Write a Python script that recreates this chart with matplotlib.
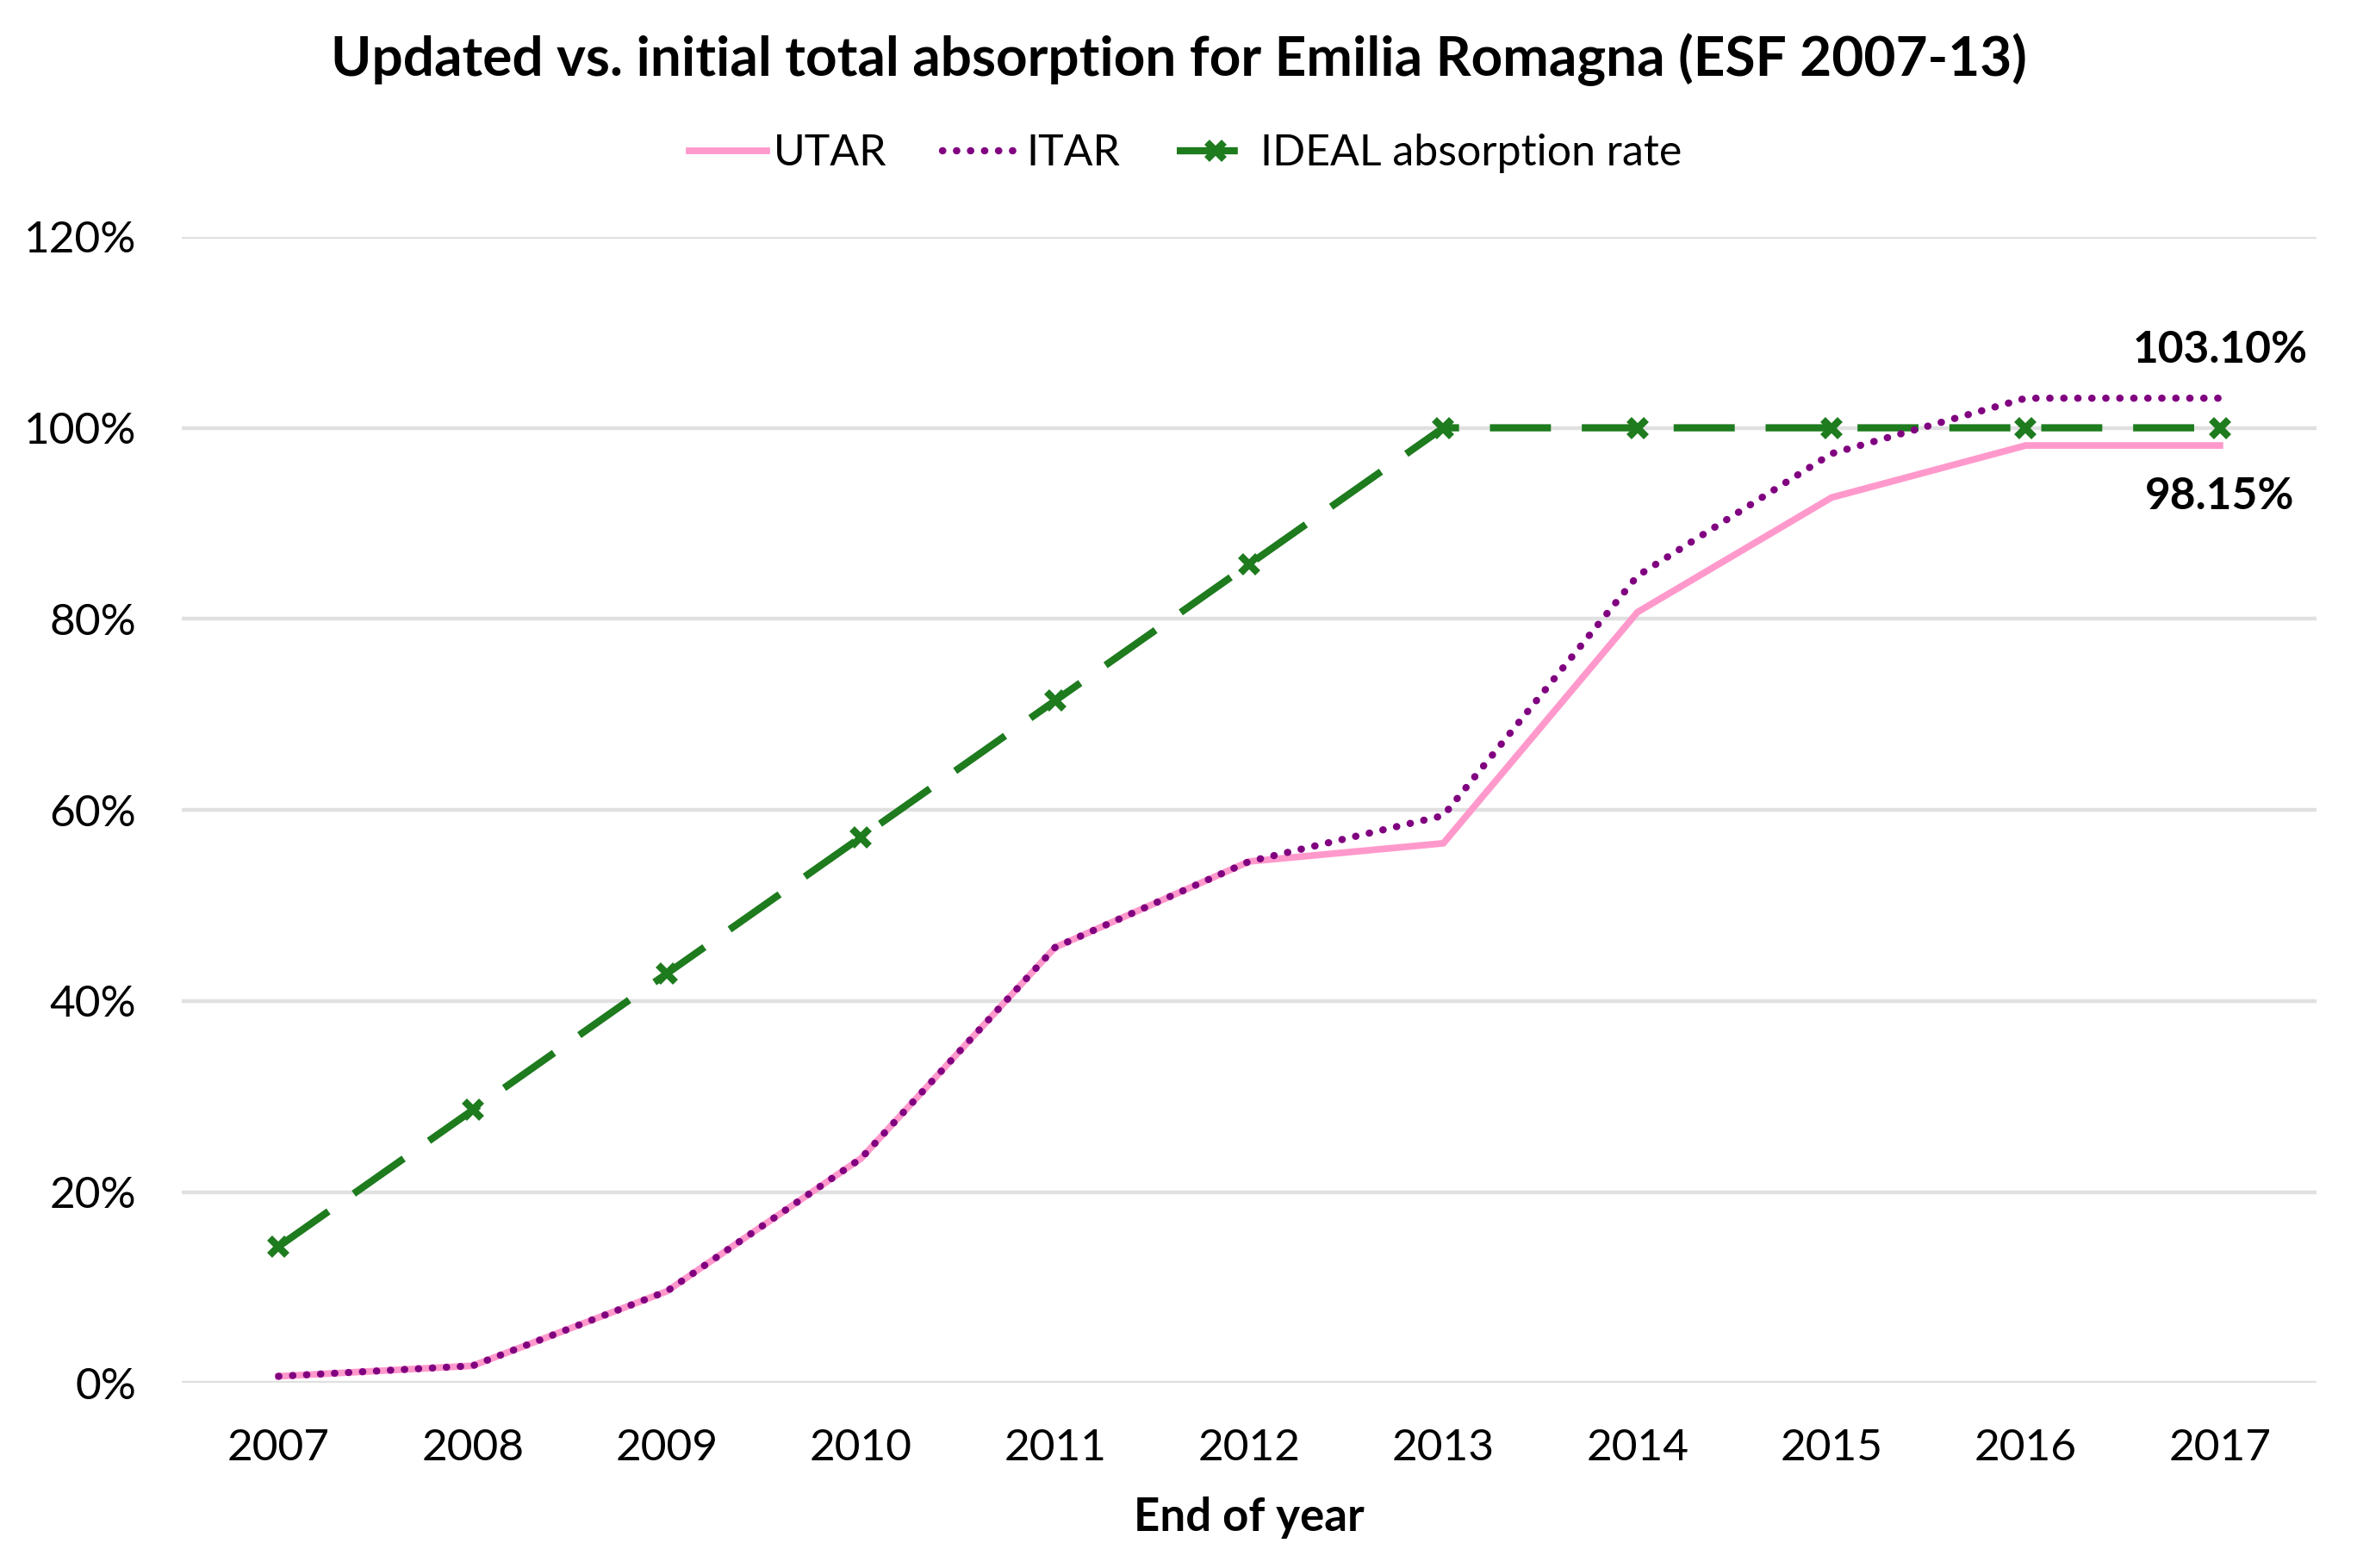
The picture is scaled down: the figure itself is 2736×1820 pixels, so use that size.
import matplotlib
matplotlib.use("Agg")
import matplotlib.pyplot as plt
from matplotlib.ticker import FuncFormatter

years = [2007, 2008, 2009, 2010, 2011, 2012, 2013, 2014, 2015, 2016, 2017]
utar = [0.7, 1.8, 9.6, 23.5, 45.6, 54.6, 56.5, 80.7, 92.7, 98.15, 98.15]
itar = [0.7, 1.8, 9.6, 23.5, 45.6, 54.6, 59.4, 84.5, 97.3, 103.10, 103.10]
ideal = [14.29, 28.57, 42.86, 57.14, 71.43, 85.71, 100, 100, 100, 100, 100]
yticks = [0, 20, 40, 60, 80, 100, 120]

plt.rcParams['font.family'] = ['Lato', 'DejaVu Sans']

fig = plt.figure(figsize=(13.68, 9.10), dpi=200)
ax = fig.add_axes([0.077, 0.118, 0.906, 0.731])

x = list(range(len(years)))
l_ideal, = ax.plot(x, ideal, color='#1E7B1E', lw=3.0, dashes=(8.5, 4.3),
                   marker='x', markersize=7, markeredgewidth=3.0, label='IDEAL absorption rate', zorder=3)
l_utar, = ax.plot(x, utar, color='#FF99CC', lw=2.8, solid_joinstyle='miter', label='UTAR', zorder=4)
l_itar, = ax.plot(x, itar, color='#800080', lw=3.0, dashes=(0.05, 1.9), dash_capstyle='round',
                  label='ITAR', zorder=5)

ax.set_xlim(-0.5, len(years) - 0.5)
ax.set_ylim(0, 120)
ax.set_yticks(yticks)
ax.yaxis.set_major_formatter(FuncFormatter(lambda v, p: f"{v:.0f}%"))
ax.set_xticks(x)
ax.set_xticklabels([str(y) for y in years])
ax.grid(axis='y', color='#E0E0E0', lw=1.6)
ax.set_axisbelow(True)
for s in ax.spines.values():
    s.set_visible(False)
ax.tick_params(axis='both', length=0, labelsize=18.5, colors='#000000')
ax.tick_params(axis='x', pad=19)
ax.tick_params(axis='y', pad=19)

ax.set_xlabel('End of year', fontsize=19, fontweight='bold', labelpad=12)

ax.annotate(f"{itar[-1]:.2f}%", (x[-1], itar[-1]), xytext=(0, 20), textcoords='offset points',
            ha='center', va='center', fontsize=18.5, fontweight='bold')
ax.annotate(f"{utar[-1]:.2f}%", (x[-1], utar[-1]), xytext=(0, -21.5), textcoords='offset points',
            ha='center', va='center', fontsize=18.5, fontweight='bold')

fig.suptitle('Updated vs. initial total absorption for Emilia Romagna (ESF 2007-13)',
             fontsize=23, fontweight='bold', y=0.962, va='center')

fig.legend(handles=[l_utar, l_itar, l_ideal], loc='center', bbox_to_anchor=(0.503, 0.902), ncol=3,
           frameon=False, fontsize=18, handlelength=1.8, handletextpad=0.15, columnspacing=1.3)

fig.savefig('out.png', dpi=200)
